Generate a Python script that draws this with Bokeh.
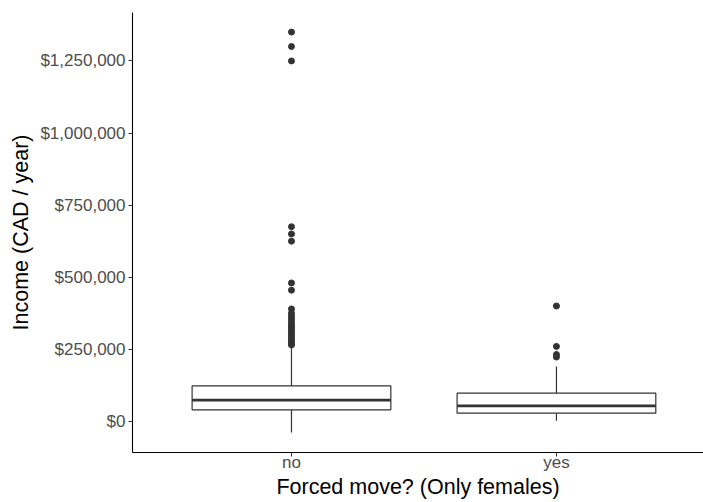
from bokeh.plotting import figure
from bokeh.models import Range1d, FixedTicker, NumeralTickFormatter, ColumnDataSource
from bokeh.embed import file_html
from bokeh.resources import INLINE

# ---- data ----
categories = ["no", "yes"]
lower_whisker = [-39000, 2000]
q1 = [40000, 28500]
median = [73600, 53800]
q3 = [123300, 97900]
upper_whisker = [254000, 190000]
outliers_no = [1350000, 1300000, 1250000, 675000, 650000, 625000, 480000, 455000,
               390000, 375000, 365000, 355000, 345000, 335000, 328000, 320000, 312000,
               305000, 298000, 290000, 283000, 276000, 270000, 265000]
outliers_yes = [400000, 260000, 232000, 223000]
y_ticks = [0, 250000, 500000, 750000, 1000000, 1250000]

# ---- build sources ----
xpos = [i + 1 for i in range(len(categories))]
box_width = 0.75
box_src = ColumnDataSource(dict(
    x=xpos,
    x0=[x - box_width / 2 for x in xpos],
    x1=[x + box_width / 2 for x in xpos],
    lw=lower_whisker, q1=q1, med=median, q3=q3, uw=upper_whisker,
))
out_x = [xpos[0]] * len(outliers_no) + [xpos[1]] * len(outliers_yes)
out_y = outliers_no + outliers_yes
out_src = ColumnDataSource(dict(x=out_x, y=out_y))

FONT = "Liberation Sans"
DARK = "#333333"

p = figure(width=703, height=502, output_backend="svg", toolbar_location=None,
           x_range=Range1d(0.4, 2.555), y_range=Range1d(-108000, 1418000),
           min_border_left=132, min_border_right=0, min_border_top=12, min_border_bottom=50)

p.background_fill_color = "white"
p.border_fill_color = "white"
p.outline_line_color = None
p.xgrid.visible = False
p.ygrid.visible = False

# whiskers
p.segment(x0="x", y0="q3", x1="x", y1="uw", source=box_src, line_color=DARK, line_width=1.2)
p.segment(x0="x", y0="q1", x1="x", y1="lw", source=box_src, line_color=DARK, line_width=1.2)
# boxes
p.vbar(x="x", width=box_width, bottom="q1", top="q3", source=box_src,
       fill_color="white", line_color=DARK, line_width=1.2)
# medians
p.segment(x0="x0", y0="med", x1="x1", y1="med", source=box_src, line_color=DARK, line_width=2.6)
# outliers
p.scatter(x="x", y="y", source=out_src, size=6, fill_color=DARK, line_color=DARK)

# axes
p.xaxis.ticker = FixedTicker(ticks=xpos)
p.xaxis.major_label_overrides = {x: c for x, c in zip(xpos, categories)}
p.yaxis.ticker = FixedTicker(ticks=y_ticks)
p.yaxis.formatter = NumeralTickFormatter(format="$0,0")

p.xaxis.axis_label = "Forced move? (Only females)"
p.yaxis.axis_label = "Income (CAD / year)"

for ax in (p.xaxis, p.yaxis):
    ax.axis_line_color = "black"
    ax.axis_line_width = 1.1
    ax.major_tick_line_color = DARK
    ax.major_tick_line_width = 1.1
    ax.major_tick_out = 4
    ax.major_tick_in = 0
    ax.minor_tick_line_color = None
    ax.major_label_text_font = FONT
    ax.major_label_text_font_size = "17px"
    ax.major_label_text_color = "#4D4D4D"
    ax.axis_label_text_font = FONT
    ax.axis_label_text_font_size = "21.5px"
    ax.axis_label_text_font_style = "normal"
    ax.axis_label_text_color = "black"

p.xaxis.major_label_standoff = -4
p.xaxis.axis_label_standoff = 0
p.yaxis.major_label_standoff = 3
p.yaxis.axis_label_standoff = 4

open("out.html", "w").write(file_html(p, INLINE))
